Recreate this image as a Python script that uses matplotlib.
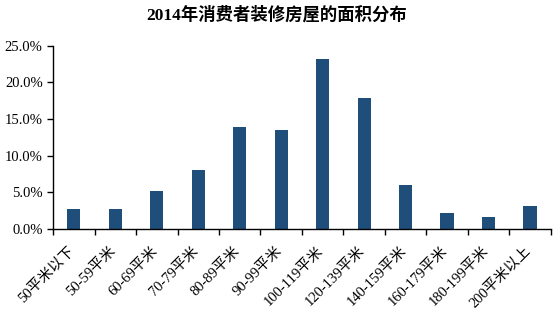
import numpy as np
import matplotlib
matplotlib.use('Agg')
from matplotlib import pyplot as plt
from matplotlib import transforms
from matplotlib.ticker import FuncFormatter, FixedLocator

# Data
categories = ['50平米以下', '50-59平米', '60-69平米', '70-79平米', '80-89平米', '90-99平米',
              '100-119平米', '120-139平米', '140-159平米', '160-179平米', '180-199平米', '200平米以上']
shares = [2.7, 2.7, 5.2, 8.0, 13.9, 13.5, 23.2, 17.9, 6.0, 2.2, 1.6, 3.2]
y_ticks = [0, 5, 10, 15, 20, 25]

fonts = ['Liberation Serif', 'Noto Sans CJK SC']
plt.rcParams['font.family'] = fonts

fig = plt.figure(figsize=(5.53, 3.26), dpi=100)
ax = fig.add_axes([0.096, 0.297, 0.9, 0.563])

x = np.arange(len(categories))
ax.bar(x, shares, width=0.32, color='#1f4e7a')

ax.set_xlim(-0.5, len(categories) - 0.5)
ax.set_ylim(0, 25)
ax.set_yticks(y_ticks)
ax.yaxis.set_major_formatter(FuncFormatter(lambda v, p: '%.1f%%' % v))

# labels at category centres, tick marks between categories
ax.set_xticks(x)
ax.set_xticklabels(categories, rotation=45, ha='right', rotation_mode='anchor')
ax.xaxis.set_minor_locator(FixedLocator(np.arange(-0.5, len(categories), 1)))
ax.tick_params(axis='x', which='major', length=0, pad=11, labelsize=10.5)
ax.tick_params(axis='x', which='minor', length=4, direction='out', width=1)
ax.tick_params(axis='y', length=4, direction='out', width=1, labelsize=10.5)

# nudge rotated labels a little to the left
shift = transforms.ScaledTranslation(-6 / 100, 0, fig.dpi_scale_trans)
for lbl in ax.get_xticklabels():
    lbl.set_transform(lbl.get_transform() + shift)

for s in ['top', 'right']:
    ax.spines[s].set_visible(False)
for s in ['left', 'bottom']:
    ax.spines[s].set_linewidth(1)

fig.text(0.5, 0.953, '2014年消费者装修房屋的面积分布', ha='center', va='center',
         fontsize=12.5, fontweight='bold')

fig.savefig('out.png', dpi=100)
